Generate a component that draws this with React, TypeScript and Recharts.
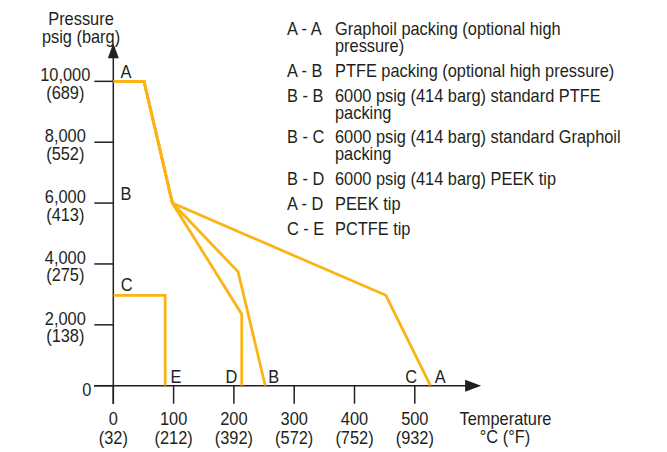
import React from 'react';
import { LineChart, Line, XAxis, YAxis, ReferenceLine, ReferenceDot } from 'recharts';

const FONT = '"Liberation Sans", Arial, sans-serif';
const INK = '#231f20';
const ORANGE = '#fbb416';

// corner points of each rating curve: t = temperature °C, p = pressure psig
const curveAA = [
    { t: 0, p: 10000 },
    { t: 51, p: 10000 },
    { t: 98, p: 6000 },
    { t: 452, p: 2970 },
    { t: 526, p: 0 },
];
const curveAB = [
    { t: 0, p: 10000 },
    { t: 51, p: 10000 },
    { t: 98, p: 6000 },
    { t: 207, p: 3740 },
    { t: 252, p: 0 },
];
const curveAD = [
    { t: 0, p: 10000 },
    { t: 51, p: 10000 },
    { t: 98, p: 6000 },
    { t: 213, p: 2350 },
    { t: 213, p: 0 },
];
const curveCE = [
    { t: 0, p: 2970 },
    { t: 86, p: 2970 },
    { t: 86, p: 0 },
];

const tempTicks = [0, 100, 200, 300, 400, 500];
const tempFahrenheit = ['(32)', '(212)', '(392)', '(572)', '(752)', '(932)'];
const pressureTicks = [0, 2000, 4000, 6000, 8000, 10000];
const pressureLabels = ['0', '2,000', '4,000', '6,000', '8,000', '10,000'];
const bargLabels = ['', '(138)', '(275)', '(413)', '(552)', '(689)'];

// letters marking the curve end points
const pointLetters = [
    { text: 'A', t: 21, p: 10000 },
    { text: 'B', t: 21, p: 6000 },
    { text: 'C', t: 22, p: 3000 },
    { text: 'E', t: 104, p: 0 },
    { text: 'D', t: 196, p: 0 },
    { text: 'B', t: 266, p: 0 },
    { text: 'C', t: 494, p: 0 },
    { text: 'A', t: 542, p: 0 },
];

const legendCodes = ['A - A', 'A - B', 'B - B', 'B - C', 'B - D', 'A - D', 'C - E'];
const legendTexts = [
    ['Graphoil packing (optional high', 'pressure)'],
    ['PTFE packing (optional high pressure)'],
    ['6000 psig (414 barg) standard PTFE', 'packing'],
    ['6000 psig (414 barg) standard Graphoil', 'packing'],
    ['6000 psig (414 barg) PEEK tip'],
    ['PEEK tip'],
    ['PCTFE tip'],
];

const textStyle = { fontFamily: FONT, fontSize: 18.2, fill: INK };

// no condensed font is installed, so squeeze a regular one horizontally
const T = ({ x, y, anchor = 'start', children }: any) => (
    <text
        transform={`translate(${x},${y}) scale(0.9,1)`}
        textAnchor={anchor}
        style={textStyle}
    >
        {children}
    </text>
);

const TempTick = (props: any) => {
    const { x, y, payload } = props;
    const i = tempTicks.indexOf(payload.value);
    return (
        <g>
            <T x={x} y={y + 21} anchor="middle">{payload.value}</T>
            <T x={x} y={y + 40} anchor="middle">{tempFahrenheit[i]}</T>
        </g>
    );
};

const PressureTick = (props: any) => {
    const { x, y, payload } = props;
    const i = pressureTicks.indexOf(payload.value);
    if (payload.value === 0) {
        return <T x={x - 3} y={y + 10} anchor="end">0</T>;
    }
    return (
        <g>
            <T x={x - 29} y={y} anchor="middle">{pressureLabels[i]}</T>
            <T x={x - 29} y={y + 17.5} anchor="middle">{bargLabels[i]}</T>
        </g>
    );
};

const curves = [curveAA, curveAB, curveAD, curveCE];

export default function App() {
    // legend baselines: wrapped lines are tighter than new entries
    let yPos = 35;
    const legendRows: React.ReactNode[] = [];
    legendCodes.forEach((code, i) => {
        legendRows.push(<T key={'c' + i} x={287} y={yPos}>{code}</T>);
        legendTexts[i].forEach((line, j) => {
            if (j > 0) yPos += 17;
            legendRows.push(<T key={'t' + i + '-' + j} x={335} y={yPos}>{line}</T>);
        });
        yPos += 24.8;
    });

    return (
        <div style={{ position: 'absolute', left: 0, top: 0, width: 667, height: 452, background: '#fff' }}>
            <LineChart
                width={667}
                height={452}
                margin={{ top: 50.9, right: 191.9, bottom: 6.3, left: 23.3 }}
            >
                <XAxis
                    type="number"
                    dataKey="t"
                    domain={[0, 600]}
                    ticks={tempTicks}
                    axisLine={false}
                    tickLine={{ stroke: INK, strokeWidth: 1.5 }}
                    tickSize={18}
                    tickMargin={0}
                    height={60}
                    tick={<TempTick />}
                    allowDataOverflow
                />
                <YAxis
                    type="number"
                    dataKey="p"
                    domain={[0, 11000]}
                    ticks={pressureTicks}
                    axisLine={false}
                    tickLine={{ stroke: INK, strokeWidth: 1.5 }}
                    tickSize={19}
                    tickMargin={0}
                    width={90}
                    tick={<PressureTick />}
                    allowDataOverflow
                />
                <ReferenceLine
                    segment={[{ x: -32, y: 0 }, { x: 600, y: 0 }]}
                    stroke={INK}
                    strokeWidth={1.5}
                    ifOverflow="visible"
                />
                <ReferenceLine
                    segment={[{ x: 0, y: -600 }, { x: 0, y: 10900 }]}
                    stroke={INK}
                    strokeWidth={1.5}
                    ifOverflow="visible"
                />
                <ReferenceDot
                    x={610}
                    y={0}
                    r={0}
                    ifOverflow="visible"
                    shape={(p: any) => (
                        <polygon
                            points={`${p.cx},${p.cy} ${p.cx - 16},${p.cy - 6} ${p.cx - 16},${p.cy + 6}`}
                            fill={INK}
                        />
                    )}
                />
                <ReferenceDot
                    x={0}
                    y={11250}
                    r={0}
                    ifOverflow="visible"
                    shape={(p: any) => (
                        <polygon
                            points={`${p.cx},${p.cy} ${p.cx - 5.5},${p.cy + 15} ${p.cx + 5.5},${p.cy + 15}`}
                            fill={INK}
                        />
                    )}
                />
                {curves.map((c, i) => (
                    <Line
                        key={i}
                        data={c}
                        dataKey="p"
                        type="linear"
                        stroke={ORANGE}
                        strokeWidth={2.8}
                        strokeLinejoin="miter"
                        dot={false}
                        activeDot={false}
                        isAnimationActive={false}
                    />
                ))}
                {pointLetters.map((a, i) => (
                    <ReferenceDot
                        key={'l' + i}
                        x={a.t}
                        y={a.p}
                        r={0}
                        ifOverflow="visible"
                        shape={(p: any) => (
                            <T x={p.cx} y={p.cy - 3} anchor="middle">{a.text}</T>
                        )}
                    />
                ))}
            </LineChart>
            <svg
                width={667}
                height={452}
                style={{ position: 'absolute', left: 0, top: 0, pointerEvents: 'none' }}
            >
                <T x={81} y={25} anchor="middle">Pressure</T>
                <T x={81} y={42.5} anchor="middle">psig (barg)</T>
                <T x={505.5} y={425} anchor="middle">Temperature</T>
                <T x={505} y={443} anchor="middle">°C (°F)</T>
                {legendRows}
            </svg>
        </div>
    );
}
